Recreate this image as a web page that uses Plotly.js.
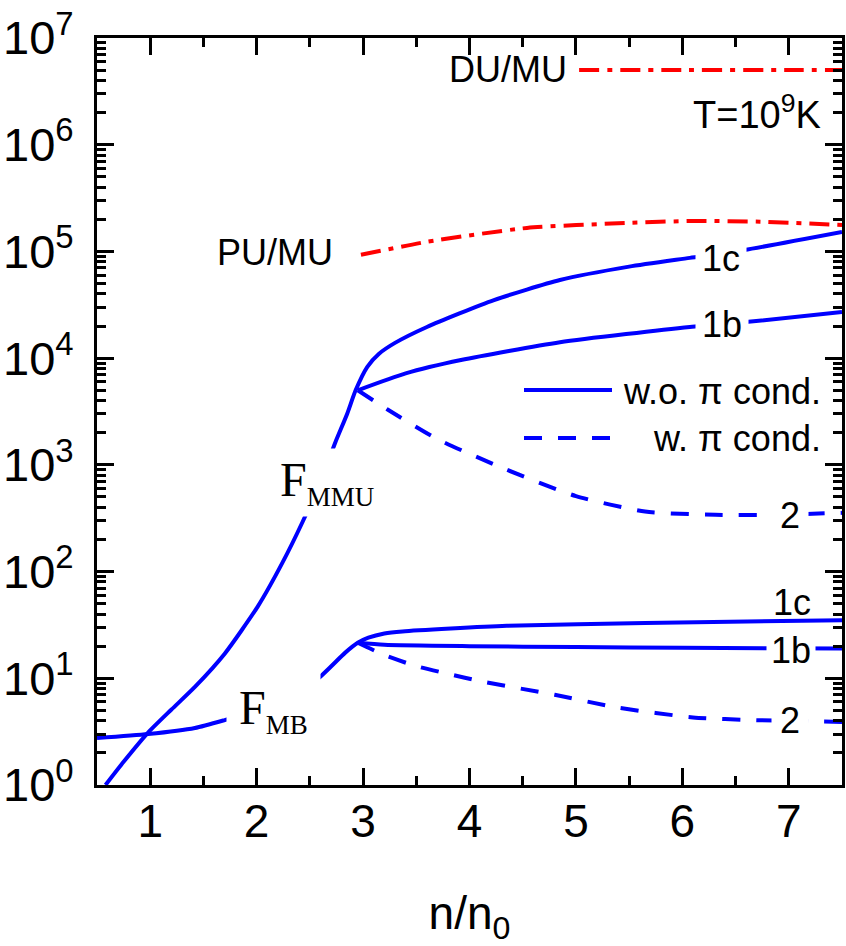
<!DOCTYPE html>
<html>
<head>
<meta charset="utf-8">
<script src="https://cdn.plot.ly/plotly-3.0.1.min.js"></script>
<style>html,body{margin:0;padding:0;background:#fff;}#chart{width:846px;height:946px;}</style>
</head>
<body>
<div id="chart"></div>
<script>
// ---- data ----
// F_MMU, continuing into branch 1c (without pion condensation)
const mmu_x = [0.58, 0.75, 0.98, 1.2, 1.42, 1.70, 2.01, 2.24, 2.43, 2.60, 2.74, 2.85, 2.93, 3.04, 3.15, 3.30, 3.60, 4.23, 4.85, 5.5, 6.07, 6.58, 7.5];
const mmu_y = [1.0, 1.65, 3.1, 5.1, 8.3, 17, 47, 120, 290, 700, 1630, 3000, 5000, 8300, 11000, 13900, 19600, 35000, 54000, 72000, 87000, 103000, 152000];
// F_MMU branch 1b
const mmu1b_x = [2.95, 3.4, 3.92, 4.85, 6.07, 6.62, 7.5];
const mmu1b_y = [5000, 7200, 9600, 14100, 19600, 21900, 27000];
// F_MMU branch 2 (with pion condensation)
const mmu2_x = [2.95, 3.23, 3.69, 4.35, 5.0, 5.65, 6.31, 6.8, 7.5];
const mmu2_y = [5000, 3300, 1760, 900, 510, 365, 340, 340, 355];
// F_MB, continuing into branch 1c
const mb_x = [0.5, 0.98, 1.42, 1.70, 2.0, 2.3, 2.57, 2.83, 2.95, 3.05, 3.2, 3.37, 4.35, 5.65, 7.5];
const mb_y = [2.75, 3.0, 3.42, 4.06, 5.0, 6.8, 9.8, 17.3, 21.5, 24.0, 26.3, 27.5, 31, 33, 35];
// F_MB branch 1b
const mb1b_x = [2.95, 3.2, 4.0, 5.0, 6.0, 7.5];
const mb1b_y = [21.5, 20.6, 20.0, 19.6, 19.3, 19.0];
// F_MB branch 2
const mb2_x = [2.95, 3.2, 3.5, 3.8, 4.1, 4.8, 5.4, 6.1, 6.7, 7.5];
const mb2_y = [21.5, 16.5, 13.0, 11.0, 9.4, 7.0, 5.3, 4.3, 4.05, 3.9];
// ratio PU/MU
const pu_x = [2.98, 3.6, 4.54, 5.48, 6.1, 6.73, 7.5];
const pu_y = [93000, 123000, 166000, 185000, 193000, 190000, 177000];
// ratio DU/MU
const du_x = [5.03, 6.0, 7.0, 7.5];
const du_y = [5.0e6, 5.0e6, 5.0e6, 5.0e6];

const yTickVals = [1, 10, 100, 1e3, 1e4, 1e5, 1e6, 1e7];
const yTickText = ['10<sup>0</sup>', '10<sup>1</sup>', '10<sup>2</sup>', '10<sup>3</sup>', '10<sup>4</sup>', '10<sup>5</sup>', '10<sup>6</sup>', '10<sup>7</sup>'];
const xTickVals = [1, 2, 3, 4, 5, 6, 7];
const xTickText = ['1', '2', '3', '4', '5', '6', '7'];

// ---- styles ----
const BLUE = '#0000ff', RED = '#ff0000';
const SANS = 'Arial, "Liberation Sans", Helvetica, sans-serif';
const SERIF = '"Times New Roman", "Liberation Serif", serif';
const solid = {color: BLUE, width: 4, shape: 'spline', smoothing: 0.6};
const dashed = {color: BLUE, width: 4, dash: '18px,16px', shape: 'spline', smoothing: 0.6};
const dashdot = {color: RED, width: 4, dash: '20px,8px,5px,8px', shape: 'spline', smoothing: 0.6};

const traces = [
  {x: mmu_x, y: mmu_y, line: solid},
  {x: mmu1b_x, y: mmu1b_y, line: solid},
  {x: mmu2_x, y: mmu2_y, line: dashed},
  {x: mb_x, y: mb_y, line: solid},
  {x: mb1b_x, y: mb1b_y, line: solid},
  {x: mb2_x, y: mb2_y, line: dashed},
  {x: pu_x, y: pu_y, line: dashdot},
  {x: du_x, y: du_y, line: dashdot}
].map(t => Object.assign({type: 'scatter', mode: 'lines', showlegend: false, hoverinfo: 'skip'}, t));

// ---- layout helpers (pixel -> paper) ----
const L = 97, R = 842, T = 38, B = 785;
const px = p => (p - L) / (R - L);
const py = p => (B - p) / (B - T);

function lab(text, x, y, opts) {
  return Object.assign({
    xref: 'paper', yref: 'paper', x: px(x), y: py(y), text: text, showarrow: false,
    xanchor: 'center', yanchor: 'middle', font: {family: SANS, size: 36, color: '#000'}
  }, opts || {});
}
const WB = {bgcolor: '#ffffff', borderpad: 6};

const annotations = [
  lab('DU/MU', 569, 70, {xanchor: 'right'}),
  lab('T=10<sup>9</sup>K', 823, 112, {xanchor: 'right', font: {family: SANS, size: 38, color: '#000'}}),
  lab('PU/MU', 335, 252, {xanchor: 'right'}),
  lab('1c', 721, 258, WB),
  lab('1b', 722, 324, WB),
  lab('w.o. π cond.', 823, 391, {xanchor: 'right'}),
  lab('w. π cond.', 823, 438, {xanchor: 'right'}),
  lab('2', 790, 515, Object.assign({}, WB, {borderpad: 8})),
  lab('1c', 792, 602),
  lab('1b', 791, 650, {bgcolor: '#ffffff', borderpad: 4}),
  lab('2', 790, 720, Object.assign({}, WB, {borderpad: 8})),
  lab('F<sub><span style="font-size:27px">MMU</span></sub>', 327, 482, {bgcolor: '#ffffff', borderpad: 4, font: {family: SERIF, size: 48, color: '#000'}}),
  lab('F<sub><span style="font-size:27px">MB</span></sub>', 273, 710, {bgcolor: '#ffffff', borderpad: 12, font: {family: SERIF, size: 48, color: '#000'}})
];

const shapes = [
  {type: 'line', xref: 'paper', yref: 'paper', x0: px(524), x1: px(612), y0: py(390), y1: py(390), line: {color: BLUE, width: 4}},
  {type: 'line', xref: 'paper', yref: 'paper', x0: px(524), x1: px(612), y0: py(438), y1: py(438), line: {color: BLUE, width: 4, dash: '18px,16px'}}
];

const minorY = [];
for (let e = 0; e < 7; e++) for (let d = 2; d <= 9; d++) minorY.push(d * Math.pow(10, e));

const axisCommon = {
  showline: true, linecolor: '#000', linewidth: 3, mirror: 'ticks',
  ticks: 'inside', ticklen: 17, tickwidth: 3, tickcolor: '#000',
  showgrid: false, zeroline: false
};

const layout = {
  width: 846, height: 946,
  margin: {l: L, r: 846 - R, t: T, b: 946 - B},
  paper_bgcolor: '#fff', plot_bgcolor: '#fff',
  showlegend: false,
  xaxis: Object.assign({}, axisCommon, {
    range: [0.5, 7.5], tickmode: 'array', tickvals: xTickVals, ticktext: xTickText,
    tickfont: {family: SANS, size: 46, color: '#000'}, ticklabelstandoff: -6,
    minor: {tickmode: 'linear', tick0: 0.5, dtick: 0.5, ticks: 'inside', ticklen: 9, tickwidth: 3, tickcolor: '#000', showgrid: false},
    title: {text: 'n/n<sub>0</sub>', font: {family: SANS, size: 46, color: '#000'}, standoff: 52},
    automargin: false
  }),
  yaxis: Object.assign({}, axisCommon, {
    type: 'log', range: [0, 7], tickmode: 'array', tickvals: yTickVals, ticktext: yTickText,
    tickfont: {family: SANS, size: 47, color: '#000'}, ticklabelstandoff: 11,
    minor: {tickmode: 'array', tickvals: minorY, ticks: 'inside', ticklen: 9, tickwidth: 3, tickcolor: '#000', showgrid: false},
    automargin: false
  }),
  annotations: annotations,
  shapes: shapes
};

Plotly.newPlot('chart', traces, layout, {staticPlot: true, displayModeBar: false});
</script>
</body>
</html>
